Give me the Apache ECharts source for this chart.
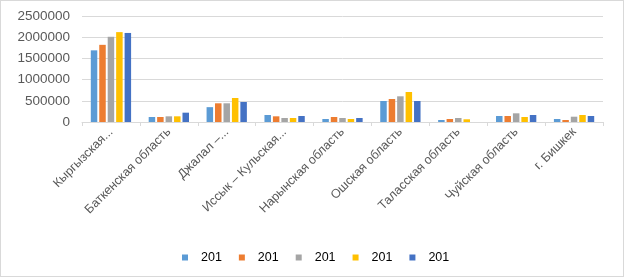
<!DOCTYPE html>
<html>
<head>
<meta charset="utf-8">
<script src="https://cdn.jsdelivr.net/npm/echarts@6/dist/echarts.min.js"></script>
<style>
  html, body { margin: 0; padding: 0; background: #fff; }
  #chart { width: 622px; height: 275px; border: 1px solid #d9d9d9; }
</style>
</head>
<body>
<div id="chart"></div>
<script>
// regions
const categories = [
  "Кыргызская...", "Баткенская область", "Джалал –...", "Иссык – Кульская...",
  "Нарынская область", "Ошская область", "Таласская область", "Чуйская область", "г. Бишкек"
];
const seriesNames = ["2014", "2015", "2016", "2017", "2018"];
const colors = ["#5B9BD5", "#ED7D31", "#A5A5A5", "#FFC000", "#4472C4"];

const values2014 = [1690000, 118000, 350000, 165000, 71000, 495000, 47000, 141000, 71000];
const values2015 = [1820000, 118000, 441000, 134000, 118000, 542000, 71000, 141000, 47000];
const values2016 = [2010000, 134000, 441000, 94000, 94000, 606000, 94000, 205000, 125000];
const values2017 = [2120000, 134000, 566000, 94000, 71000, 707000, 64000, 118000, 165000];
const values2018 = [2100000, 220000, 472000, 141000, 94000, 495000, 0, 165000, 141000];
const allValues = [values2014, values2015, values2016, values2017, values2018];

const chart = echarts.init(document.getElementById("chart"));
chart.setOption({
  animation: false,
  color: colors,
  textStyle: { fontFamily: "Liberation Sans" },
  grid: { left: 81, right: 20, top: 15, bottom: 154 },
  legend: {
    left: 176,
    top: 245,
    icon: "rect",
    itemWidth: 6,
    itemHeight: 6,
    itemGap: 17,
    data: seriesNames,
    formatter: function (name) {
      return name.slice(0, 3);
    },
    textStyle: { color: "#000", fontSize: 12.5, padding: [0, 0, 0, 8] },
  },
  xAxis: {
    type: "category",
    data: categories,
    axisLine: { lineStyle: { color: "#d9d9d9" } },
    axisTick: { show: true, length: 4, lineStyle: { color: "#d9d9d9" } },
    axisLabel: {
      rotate: 45,
      interval: 0,
      margin: 8,
      color: "#595959",
      fontSize: 12.5,
    },
  },
  yAxis: {
    type: "value",
    min: 0,
    max: 2500000,
    interval: 500000,
    axisLine: { show: false },
    axisTick: { show: false },
    axisLabel: {
      color: "#595959",
      fontSize: 13.5,
      margin: 12,
      formatter: function (v) {
        return String(v);
      },
    },
    splitLine: { lineStyle: { color: "#d9d9d9" } },
  },
  series: seriesNames.map(function (name, i) {
    return {
      name: name,
      type: "bar",
      data: allValues[i],
      barWidth: 6.5,
      barGap: "30%",
    };
  }),
});
</script>
</body>
</html>
